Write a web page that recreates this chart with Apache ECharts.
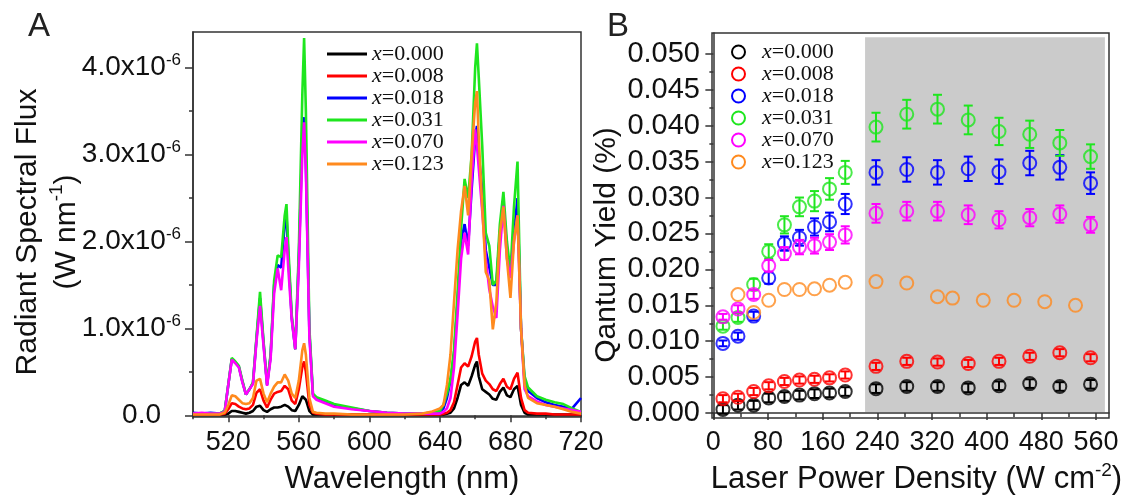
<!DOCTYPE html>
<html>
<head>
<meta charset="utf-8">
<script src="https://cdn.jsdelivr.net/npm/echarts@6/dist/echarts.min.js"></script>
<style>
  html, body { margin: 0; background: #fff; }
  #chart { width: 1133px; height: 502px; }
</style>
</head>
<body>
<div id="chart"></div>
<script>
const seriesNames = ['x=0.000', 'x=0.008', 'x=0.018', 'x=0.031', 'x=0.070', 'x=0.123'];
const colors = ['#000000', '#ff0000', '#0000ff', '#1ee61e', '#ff00ff', '#ff8a1e'];

// panel A: wavelength (nm) and radiant spectral flux (x10^-6 W/nm)
const wavelength = [500, 505, 510, 515, 518, 520, 522, 524, 526, 528, 530, 532, 534, 536, 538, 540, 542, 544, 546, 548,
  550, 552, 553, 554, 556, 558, 560, 562, 563, 564, 566, 568, 570, 575, 580, 590, 600, 610, 620, 630, 635,
  640, 642, 644, 646, 648, 650, 652, 654, 656, 658, 660, 661, 662, 664, 666, 668, 670, 672, 674, 676, 678,
  680, 682, 684, 686, 688, 690, 695, 700, 705, 710, 715, 720];
const flux000 = [0.01, 0.01, 0.01, 0.01, 0.01, 0.02, 0.05, 0.05, 0.04, 0.03, 0.02, 0.03, 0.05, 0.10, 0.11, 0.06, 0.04, 0.07, 0.09, 0.09,
  0.10, 0.12, 0.13, 0.10, 0.06, 0.05, 0.12, 0.22, 0.24, 0.18, 0.05, 0.01, 0.01, 0.01, 0.01, 0.01, 0.01, 0.01, 0.01, 0.01, 0.01,
  0.01, 0.01, 0.02, 0.03, 0.08, 0.20, 0.35, 0.38, 0.34, 0.45, 0.58, 0.62, 0.45, 0.30, 0.27, 0.24, 0.19, 0.18, 0.27, 0.32, 0.23,
  0.21, 0.30, 0.34, 0.12, 0.03, 0.01, 0.01, 0.01, 0.01, 0.01, 0.01, 0.01];
const flux008 = [0.01, 0.01, 0.01, 0.01, 0.02, 0.07, 0.14, 0.13, 0.10, 0.08, 0.07, 0.08, 0.12, 0.26, 0.30, 0.17, 0.09, 0.18, 0.25, 0.27,
  0.28, 0.34, 0.36, 0.30, 0.17, 0.13, 0.30, 0.56, 0.62, 0.50, 0.12, 0.03, 0.02, 0.01, 0.01, 0.01, 0.01, 0.01, 0.01, 0.01, 0.01,
  0.01, 0.02, 0.03, 0.06, 0.15, 0.35, 0.55, 0.60, 0.56, 0.68, 0.85, 0.89, 0.70, 0.48, 0.40, 0.36, 0.30, 0.28, 0.36, 0.42, 0.33,
  0.30, 0.42, 0.49, 0.20, 0.06, 0.03, 0.02, 0.02, 0.01, 0.01, 0.01, 0.01];
const flux018 = [0.03, 0.02, 0.03, 0.02, 0.05, 0.35, 0.65, 0.61, 0.56, 0.39, 0.24, 0.30, 0.37, 0.88, 1.35, 0.83, 0.35, 0.68, 1.50, 1.73,
  1.70, 2.20, 2.30, 1.85, 1.12, 0.76, 1.80, 3.20, 3.43, 2.90, 0.95, 0.24, 0.20, 0.16, 0.12, 0.08, 0.05, 0.03, 0.02, 0.02, 0.03,
  0.04, 0.08, 0.20, 0.40, 0.70, 1.30, 2.00, 2.20, 1.95, 2.60, 3.20, 3.33, 3.00, 2.60, 1.90, 1.70, 1.50, 1.50, 2.10, 2.45, 1.90,
  1.60, 2.10, 2.50, 1.00, 0.40, 0.28, 0.20, 0.15, 0.12, 0.10, 0.08, 0.20];
const flux031 = [0.02, 0.02, 0.02, 0.02, 0.05, 0.35, 0.66, 0.62, 0.57, 0.40, 0.24, 0.30, 0.38, 0.90, 1.42, 0.85, 0.36, 0.70, 1.55, 1.84,
  1.82, 2.30, 2.43, 1.95, 1.15, 0.76, 1.90, 3.70, 4.34, 3.50, 1.00, 0.25, 0.21, 0.17, 0.13, 0.09, 0.05, 0.03, 0.02, 0.02, 0.03,
  0.05, 0.12, 0.25, 0.42, 0.75, 1.40, 2.15, 2.72, 2.50, 3.00, 4.00, 4.28, 3.90, 3.10, 2.10, 1.95, 1.50, 1.55, 2.20, 2.57, 2.00,
  1.65, 2.40, 2.92, 1.00, 0.45, 0.32, 0.22, 0.18, 0.15, 0.13, 0.08, 0.04];
const flux070 = [0.02, 0.03, 0.02, 0.02, 0.04, 0.35, 0.64, 0.60, 0.55, 0.38, 0.24, 0.30, 0.36, 0.85, 1.26, 0.80, 0.34, 0.65, 1.40, 1.69,
  1.44, 1.90, 2.05, 1.70, 1.10, 0.76, 1.70, 3.00, 3.37, 2.80, 0.90, 0.22, 0.18, 0.14, 0.10, 0.07, 0.05, 0.03, 0.02, 0.02, 0.02,
  0.02, 0.04, 0.08, 0.20, 0.55, 1.15, 1.80, 2.10, 1.85, 2.70, 3.29, 3.10, 2.85, 2.35, 1.80, 1.45, 1.25, 1.12, 1.90, 2.41, 1.80,
  1.58, 2.00, 2.30, 1.00, 0.30, 0.22, 0.16, 0.12, 0.10, 0.08, 0.06, 0.04];
const flux123 = [0.01, 0.01, 0.01, 0.01, 0.03, 0.12, 0.23, 0.22, 0.18, 0.14, 0.13, 0.14, 0.20, 0.40, 0.42, 0.25, 0.15, 0.25, 0.33, 0.38,
  0.38, 0.47, 0.49, 0.40, 0.25, 0.20, 0.40, 0.75, 0.83, 0.70, 0.20, 0.04, 0.03, 0.02, 0.02, 0.01, 0.01, 0.01, 0.01, 0.02, 0.04,
  0.08, 0.12, 0.35, 0.70, 1.30, 1.90, 2.35, 2.64, 2.30, 3.00, 3.60, 3.73, 3.20, 2.40, 1.65, 1.55, 0.99, 1.30, 2.10, 2.40, 1.80,
  1.35, 2.00, 2.30, 1.00, 0.35, 0.20, 0.14, 0.12, 0.10, 0.07, 0.04, 0.02];

// panel B: laser power density (W/cm2), quantum yield (%) and error
const power = [14, 36, 59, 81, 104, 126, 148, 170, 193, 238, 283, 328, 373, 418, 463, 507, 552];
const powerOrange = [36, 59, 81, 104, 126, 148, 170, 193, 238, 283, 328, 350, 395, 440, 485, 530];
const qy000 = [0.0005, 0.0011, 0.0011, 0.0021, 0.0023, 0.0025, 0.0027, 0.0028, 0.0030, 0.0034, 0.0037, 0.0037, 0.0035, 0.0038, 0.0041, 0.0037, 0.0040];
const qy008 = [0.0020, 0.0022, 0.0030, 0.0038, 0.0044, 0.0046, 0.0047, 0.0049, 0.0053, 0.0065, 0.0072, 0.0071, 0.0069, 0.0072, 0.0079, 0.0084, 0.0077];
const qy018 = [0.0097, 0.0107, 0.0135, 0.0188, 0.0236, 0.0244, 0.0259, 0.0266, 0.0291, 0.0335, 0.0339, 0.0335, 0.0340, 0.0336, 0.0348, 0.0342, 0.0320];
const qy031 = [0.0121, 0.0133, 0.0179, 0.0225, 0.0262, 0.0287, 0.0295, 0.0312, 0.0335, 0.0398, 0.0416, 0.0423, 0.0408, 0.0392, 0.0388, 0.0376, 0.0357];
const qy070 = [0.0134, 0.0145, 0.0165, 0.0205, 0.0222, 0.0231, 0.0233, 0.0238, 0.0248, 0.0278, 0.0281, 0.0281, 0.0276, 0.0269, 0.0272, 0.0277, 0.0262];
const qy123 = [0.0165, 0.0140, 0.0157, 0.0172, 0.0172, 0.0173, 0.0178, 0.0182, 0.0183, 0.0181, 0.0162, 0.0160, 0.0157, 0.0157, 0.0155, 0.0150];
const err000 = [0.0006, 0.0006, 0.0006, 0.0006, 0.0006, 0.0006, 0.0006, 0.0006, 0.0006, 0.0006, 0.0006, 0.0006, 0.0006, 0.0006, 0.0006, 0.0006, 0.0006];
const err008 = [0.0005, 0.0005, 0.0005, 0.0005, 0.0005, 0.0005, 0.0005, 0.0005, 0.0005, 0.0005, 0.0005, 0.0005, 0.0005, 0.0005, 0.0005, 0.0005, 0.0005];
const err018 = [0.0004, 0.0005, 0.0006, 0.0008, 0.0010, 0.0011, 0.0012, 0.0013, 0.0014, 0.0017, 0.0017, 0.0017, 0.0017, 0.0017, 0.0017, 0.0017, 0.0015];
const err031 = [0.0005, 0.0006, 0.0008, 0.0010, 0.0012, 0.0013, 0.0014, 0.0015, 0.0016, 0.0020, 0.0020, 0.0020, 0.0020, 0.0019, 0.0019, 0.0018, 0.0017];
const err070 = [0.0004, 0.0005, 0.0006, 0.0008, 0.0009, 0.0010, 0.0011, 0.0011, 0.0012, 0.0013, 0.0013, 0.0013, 0.0013, 0.0012, 0.0012, 0.0012, 0.0011];
const err123 = [0, 0, 0, 0, 0, 0, 0, 0, 0, 0, 0, 0, 0, 0, 0, 0];

// tick labels
const wlTicks = [520, 560, 600, 640, 680, 720];
const wlMinor = [500, 540, 580, 620, 660, 700];
const fluxTicks = [0, 1, 2, 3, 4];
const fluxMinor = [0.5, 1.5, 2.5, 3.5];
const powerTicks = [0, 80, 160, 240, 320, 400, 480, 560];
const powerMinor = [40, 120, 200, 280, 360, 440, 520];
const qyTicks = [0, 0.005, 0.010, 0.015, 0.020, 0.025, 0.030, 0.035, 0.040, 0.045, 0.050];
const qyMinor = [0.0025, 0.0075, 0.0125, 0.0175, 0.0225, 0.0275, 0.0325, 0.0375, 0.0425, 0.0475];
const saturationFrom = [222, 0.00014];
const saturationTo = [573, 0.0523];

const fluxSets = [flux000, flux008, flux018, flux031, flux070, flux123];
const qySets = [qy000, qy008, qy018, qy031, qy070, qy123];
const errSets = [err000, err008, err018, err031, err070, err123];

const axisColor = '#333';
const serif = 'Liberation Serif';

function legendText(name) {
  return '{i|x}{n|' + name.slice(1) + '}';
}

function errorBars(params, api) {
  const x = api.value(0);
  const y = api.value(1);
  const e = api.value(2);
  if (!(e > 0)) {
    return { type: 'group', children: [] };
  }
  const hi = api.coord([x, y + e]);
  const lo = api.coord([x, y - e]);
  const w = 4.5;
  const style = { stroke: api.visual('color'), lineWidth: 2 };
  return {
    type: 'group',
    children: [
      { type: 'line', shape: { x1: hi[0], y1: hi[1], x2: lo[0], y2: lo[1] }, style },
      { type: 'line', shape: { x1: hi[0] - w, y1: hi[1], x2: hi[0] + w, y2: hi[1] }, style },
      { type: 'line', shape: { x1: lo[0] - w, y1: lo[1], x2: lo[0] + w, y2: lo[1] }, style }
    ]
  };
}

const series = [];

seriesNames.forEach((name, i) => {
  series.push({
    name,
    type: 'line',
    xAxisIndex: 0,
    yAxisIndex: 0,
    symbol: 'none',
    color: colors[i],
    lineStyle: { width: 2.6 },
    data: wavelength.map((w, k) => [w, fluxSets[i][k]]),
    z: 2 + i
  });
});

series.push({
  type: 'line',
  xAxisIndex: 2,
  yAxisIndex: 2,
  data: [],
  silent: true,
  z: 0,
  markArea: {
    silent: true,
    itemStyle: { color: '#cbcbcb' },
    data: [[{ coord: saturationFrom }, { coord: saturationTo }]]
  }
});

seriesNames.forEach((name, i) => {
  const xs = i === 5 ? powerOrange : power;
  series.push({
    name: 'err ' + name,
    type: 'custom',
    xAxisIndex: 2,
    yAxisIndex: 2,
    color: colors[i],
    renderItem: errorBars,
    data: xs.map((x, k) => [x, qySets[i][k], errSets[i][k]]),
    z: 3 + i
  });
  series.push({
    name,
    type: 'scatter',
    xAxisIndex: 2,
    yAxisIndex: 2,
    symbol: 'circle',
    symbolSize: 13,
    itemStyle: { color: 'rgba(0,0,0,0)', borderColor: colors[i], borderWidth: 2 },
    data: xs.map((x, k) => [x, qySets[i][k]]),
    z: 3 + i
  });
});

const legendRich = {
  i: { fontFamily: serif, fontStyle: 'italic', fontSize: 22, color: '#111', lineHeight: 22.6 },
  n: { fontFamily: serif, fontSize: 22, color: '#111', lineHeight: 22.6 }
};

const chart = echarts.init(document.getElementById('chart'));

chart.setOption({
  animation: false,
  backgroundColor: '#fff',
  textStyle: { fontFamily: 'Liberation Sans' },
  grid: [
    { left: 193, right: 552, top: 32, bottom: 82, show: true, borderColor: axisColor, borderWidth: 1.5 },
    { left: 712, right: 24, top: 33, bottom: 79, show: true, borderColor: axisColor, borderWidth: 1.5 }
  ],
  legend: [
    {
      data: seriesNames,
      orient: 'vertical',
      left: 322,
      top: 38,
      itemGap: 0,
      itemWidth: 40,
      itemHeight: 3,
      icon: 'rect',
      formatter: legendText,
      textStyle: { rich: legendRich }
    },
    {
      data: seriesNames.map((name, i) => ({
        name,
        icon: 'circle',
        itemStyle: { color: 'rgba(0,0,0,0)', borderColor: colors[i], borderWidth: 2 }
      })),
      orient: 'vertical',
      left: 726,
      top: 36,
      itemGap: 0,
      itemWidth: 13,
      itemHeight: 13,
      formatter: legendText,
      textStyle: {
        rich: {
          i: Object.assign({}, legendRich.i, { padding: [0, 0, 0, 12], lineHeight: 22.8 }),
          n: Object.assign({}, legendRich.n, { lineHeight: 22.8 })
        }
      }
    }
  ],
  xAxis: [
    {
      gridIndex: 0, type: 'value', min: 500, max: 720, position: 'bottom',
      axisLine: { lineStyle: { color: axisColor, width: 1.5 } },
      axisTick: { customValues: wlTicks, length: 7, lineStyle: { color: axisColor, width: 1.5 } },
      axisLabel: { customValues: wlTicks, fontSize: 27, color: '#111', margin: 12 },
      splitLine: { show: false },
      name: 'Wavelength (nm)', nameLocation: 'middle', nameGap: 38,
      nameTextStyle: { fontSize: 31, color: '#111', lineHeight: 36, padding: [0, 0, 0, 30] }
    },
    {
      gridIndex: 0, type: 'value', min: 500, max: 720, position: 'bottom',
      axisLine: { show: false },
      axisTick: { customValues: wlMinor, length: 4, lineStyle: { color: axisColor, width: 1.5 } },
      axisLabel: { show: false },
      splitLine: { show: false }
    },
    {
      gridIndex: 1, type: 'value', min: -2, max: 579, position: 'bottom',
      axisLine: { lineStyle: { color: axisColor, width: 1.5 } },
      axisTick: { customValues: powerTicks, length: 7, lineStyle: { color: axisColor, width: 1.5 } },
      axisLabel: { customValues: powerTicks, fontSize: 27, color: '#111', margin: 11 },
      splitLine: { show: false },
      name: 'Laser Power Density (W cm{s|-2})', nameLocation: 'middle', nameGap: 39,
      nameTextStyle: {
        fontSize: 31, color: '#111', lineHeight: 36, padding: [0, 0, 0, 12],
        rich: { s: { fontSize: 19, color: '#111', verticalAlign: 'top', lineHeight: 20 } }
      }
    },
    {
      gridIndex: 1, type: 'value', min: -2, max: 579, position: 'bottom',
      axisLine: { show: false },
      axisTick: { customValues: powerMinor, length: 4, lineStyle: { color: axisColor, width: 1.5 } },
      axisLabel: { show: false },
      splitLine: { show: false }
    }
  ],
  yAxis: [
    {
      gridIndex: 0, type: 'value', min: -0.02, max: 4.41, position: 'left',
      axisLine: { lineStyle: { color: axisColor, width: 1.5 } },
      axisTick: { customValues: fluxTicks, length: 8, lineStyle: { color: axisColor, width: 1.5 } },
      axisLabel: {
        customValues: fluxTicks, margin: 12, color: '#111',
        formatter: v => v === 0 ? '{z|0.0}' : '{n|' + v.toFixed(1) + 'x10}{s|-6}',
        rich: {
          n: { fontSize: 28, color: '#111', lineHeight: 32 },
          s: { fontSize: 17, color: '#111', verticalAlign: 'top', lineHeight: 18 },
          z: { fontSize: 28, color: '#111', lineHeight: 32, padding: [0, 20, 0, 0] }
        }
      },
      splitLine: { show: false }
    },
    {
      gridIndex: 0, type: 'value', min: -0.02, max: 4.41, position: 'left',
      axisLine: { show: false },
      axisTick: { customValues: fluxMinor, length: 4, lineStyle: { color: axisColor, width: 1.5 } },
      axisLabel: { show: false },
      splitLine: { show: false }
    },
    {
      gridIndex: 1, type: 'value', min: -0.0007, max: 0.0529, position: 'left',
      axisLine: { lineStyle: { color: axisColor, width: 1.5 } },
      axisTick: { customValues: qyTicks, length: 8, lineStyle: { color: axisColor, width: 1.5 } },
      axisLabel: {
        customValues: qyTicks, margin: 12, fontSize: 29, color: '#111',
        formatter: v => v.toFixed(3)
      },
      splitLine: { show: false }
    },
    {
      gridIndex: 1, type: 'value', min: -0.0007, max: 0.0529, position: 'left',
      axisLine: { show: false },
      axisTick: { customValues: qyMinor, length: 4, lineStyle: { color: axisColor, width: 1.5 } },
      axisLabel: { show: false },
      splitLine: { show: false }
    }
  ],
  graphic: [
    { type: 'text', left: 28, top: 10, style: { text: 'A', fontSize: 33, fill: '#222', fontFamily: 'Liberation Sans' } },
    { type: 'text', left: 607, top: 10, style: { text: 'B', fontSize: 33, fill: '#222', fontFamily: 'Liberation Sans' } },
    {
      type: 'text', x: 47, y: 232, rotation: Math.PI / 2,
      style: {
        text: 'Radiant Spectral Flux\n(W nm{s|-1})',
        align: 'center', verticalAlign: 'middle',
        fontSize: 30, lineHeight: 39, fill: '#111', fontFamily: 'Liberation Sans',
        rich: { s: { fontSize: 19, fill: '#111', verticalAlign: 'top', lineHeight: 22, fontFamily: 'Liberation Sans' } }
      }
    },
    {
      type: 'text', x: 607, y: 245, rotation: Math.PI / 2,
      style: {
        text: 'Qantum Yield (%)',
        align: 'center', verticalAlign: 'middle',
        fontSize: 30, fill: '#111', fontFamily: 'Liberation Sans'
      }
    },
    {
      type: 'text', left: 875, top: 36,
      style: {
        text: 'Emission saturation\nregime',
        fontSize: 23, lineHeight: 29, fill: '#111', fontFamily: 'Liberation Sans'
      }
    }
  ],
  series
});
</script>
</body>
</html>
